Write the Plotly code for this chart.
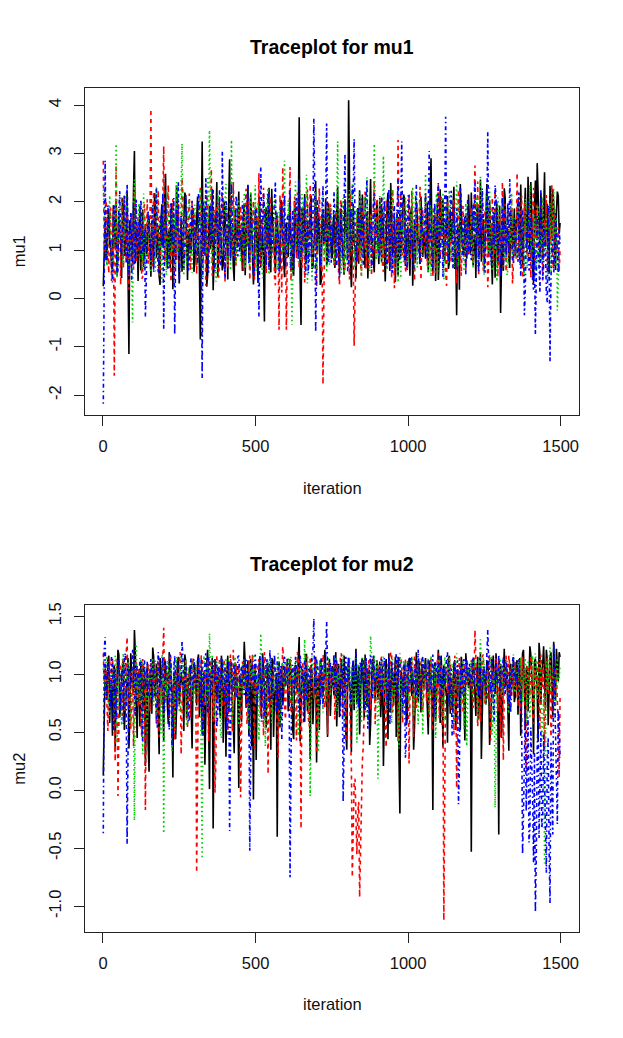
import plotly.graph_objects as go

# MCMC trace, 4 chains. Values read every 3rd iteration:
# *_chainN holds iterations 1, 7, 13, ... and *_chainN_mid holds 4, 10, 16, ...
iteration = list(range(1, 1501, 3))

mu1_chain1 = [
    0.25, 1.62, 0.94, 1.85, 1.12, 0.58, 1.41, 2.05, 0.87, 1.33, 0.42, 1.76, 1.05, 2.22, -1.15, 1.48, 0.71, 3.05, 1.18, 0.36, 1.92, 1.27, 0.65, 1.54, 0.98,
    1.68, 0.45, 1.21, 2.18, 0.83, 1.47, 0.28, 1.95, 1.09, 2.58, 0.62, 1.36, 1.81, 0.19, 1.52, 2.34, 0.91, 1.24, 0.55, 1.73, 2.12, 0.38, 1.44, 1.01, 1.87,
    0.74, 1.58, 1.16, -0.85, 3.25, 0.95, 1.62, 0.48, 1.91, 1.23, 0.17, 1.69, 2.41, 0.86, 1.35, 0.58, 2.02, 1.14, 0.39, 2.88, 1.27, 0.66, 1.83, 1.05, 2.21,
    1.41, 0.57, 1.96, 1.12, 2.35, 0.81, 1.54, 0.29, 1.78, 1.07, 2.13, 0.64, 1.46, -0.48, 1.89, 1.21, 0.73, 2.27, 1.35, 0.52, 1.68, 0.96, 2.04, 1.18, 0.44,
    1.57, 0.88, 2.09, 1.26, 0.47, 1.72, 1.03, 3.75, -0.55, 1.49, 2.16, 0.79, 1.38, 1.92, 0.61, 1.15, 2.43, 0.92, 1.61, 0.34, 1.84, 1.22, 0.69, 1.97, 1.31,
    0.83, 1.74, 1.19, 2.31, 0.58, 1.46, 0.97, 2.05, 1.33, 4.10, 0.72, 1.58, 1.11, 0.41, 1.87, 2.24, 0.86, 1.39, 0.63, 1.76, 1.02, 2.47, 1.25, 0.54, 1.69,
    1.13, 2.08, 0.76, 1.52, 0.35, 1.94, 1.27, 2.39, 0.89, 1.61, 1.05, 0.48, 1.82, 1.21, 2.15, 0.67, 1.43, 0.92, 1.78, 0.26, 1.56, 2.01, 1.09, 0.71, 1.65,
    1.36, 0.82, 1.98, 1.17, 2.90, 0.53, 1.71, 1.24, 0.38, 2.26, 1.48, 0.95, 1.63, 2.12, 0.74, 1.29, 1.88, 0.61, -0.35, 1.52, 2.37, 1.06, 0.87, 1.74, 1.19,
    1.45, 2.19, 0.68, 1.33, 1.84, 0.92, 2.46, 1.14, 0.57, 1.76, 1.28, 2.03, 0.81, 1.59, 0.43, 1.97, 1.21, -0.30, 1.66, 2.28, 0.99, 1.41, 0.63, 1.87, 1.16,
    0.88, 1.72, 1.25, 2.36, 0.66, 1.94, 1.37, 2.52, 0.95, 1.81, 0.31, 2.44, 2.80, 1.15, 2.18, 0.84, 2.61, 1.47, 0.72, 2.33, 1.26, 1.98, 0.59, 2.21, 1.34,
]
mu1_chain1_mid = [
    1.38, 0.79, 1.56, 1.12, 0.66, 1.93, 1.04, 0.51, 1.71, 1.27, 2.08, 0.88, 1.45, 0.37, 1.62, 1.15, 2.24, 0.73, 1.49, 1.01, 0.58, 1.84, 1.19, 0.92, 1.67,
    0.96, 1.53, 0.71, 1.88, 1.25, 0.46, 1.64, 1.09, 2.03, 0.82, 1.41, 0.63, 1.97, 1.18, 0.87, 1.74, 0.31, 1.58, 1.06, 2.19, 0.76, 1.33, 0.94, 1.81, 0.55,
    1.23, 2.11, 0.62, 1.46, 0.93, 1.79, 0.24, 1.35, 1.02, 2.26, 0.78, 1.57, 0.45, 1.91, 1.14, 0.69, 1.68, 1.29, 2.04, 0.84, 1.52, 0.36, 1.17, 1.86, 0.97,
    1.09, 1.72, 0.48, 1.37, 0.86, 2.17, 1.24, 0.67, 1.59, 0.32, 1.83, 1.13, 0.75, 1.66, 1.01, 2.29, 0.54, 1.42, 0.91, 1.77, 1.26, 0.61, 1.95, 0.83, 1.51,
    0.89, 1.48, 1.16, 0.57, 2.02, 0.95, 1.63, 0.42, 1.87, 1.07, 0.71, 1.55, 1.22, 2.13, 0.64, 1.39, 0.98, 1.76, 0.28, 1.61, 1.11, 2.06, 0.81, 1.43, 0.99,
    1.56, 0.63, 1.32, 0.94, 1.85, 1.18, 0.49, 1.71, 0.85, 1.47, 0.23, 1.96, 1.08, 1.63, 0.72, 1.37, 2.15, 0.95, 1.54, 0.41, 1.89, 1.12, 0.78, 1.45, 2.02,
    0.71, 1.44, 1.87, 0.96, 1.25, 2.19, 0.58, 1.62, 1.05, 0.34, 1.79, 1.31, 0.87, 1.58, 2.08, 0.92, 1.36, 0.47, 1.91, 1.16, 0.74, 1.68, 1.24, 2.11, 0.86,
    1.19, 1.63, 0.54, 1.81, 1.07, 1.52, 0.36, 1.95, 0.89, 1.43, 2.06, 0.77, 1.28, 0.61, 1.84, 1.13, 2.31, 0.94, 1.47, 0.18, 1.72, 1.03, 1.58, 0.82, 2.15,
    0.93, 1.57, 1.21, 0.42, 1.95, 1.32, 0.76, 1.64, 1.09, 2.37, 0.85, 1.48, 0.29, 1.73, 1.15, 0.68, 1.92, 1.26, 0.57, 2.08, 1.34, 0.81, 1.69, 1.02, 1.86,
    1.41, 2.07, 0.74, 1.63, 1.18, 2.29, 0.93, 1.52, 2.41, 0.62, 1.87, 1.25, 2.18, 0.84, 1.73, 2.34, 1.07, 1.96, 0.53, 1.68, 2.26, 0.97, 1.81, 2.12, 1.56,
]
mu1_chain2 = [
    2.85, 0.97, 1.64, 0.52, 1.88, 1.21, -1.60, 2.76, 0.84, 1.45, 2.11, 0.63, 1.37, 1.92, 0.18, 1.56, 1.03, 2.31, 0.75, 1.68, 1.14, 0.41, 1.82, 1.26, 2.05,
    1.18, 3.92, 0.66, 1.73, 1.09, 2.24, 0.47, 1.55, 3.15, 0.92, 1.81, 1.27, 0.34, 2.06, 1.43, 0.78, 1.96, 1.12, 2.49, 0.59, 1.64, 1.01, 2.17, 0.86, 1.38,
    1.74, 0.51, 1.29, 2.33, 0.89, 1.62, 0.26, 1.95, 1.17, 2.68, 0.72, 1.48, 1.86, 0.43, 1.35, 2.14, 0.97, 1.59, 0.64, 1.91, 1.23, 2.41, 0.81, 1.52, 1.06,
    1.92, 0.75, 1.44, 2.27, 1.08, 0.38, 1.67, 2.02, 0.93, 1.54, 2.59, 0.69, 1.31, 1.85, 0.52, 1.22, 2.11, 0.84, 1.63, 0.27, 1.78, -0.65, 1.39, 2.72, 0.96,
    -0.65, 1.46, 2.72, 0.81, 1.57, 1.13, 2.19, 0.62, 1.74, 1.02, 0.33, 1.89, 1.27, 2.36, 0.71, 1.49, 0.95, 1.83, 2.28, 0.56, -1.78, 1.61, 1.18, 0.87, 1.96,
    1.24, 0.68, 1.81, 1.37, 0.29, 2.05, 1.12, 0.58, 1.69, 0.91, 2.18, 1.46, -0.98, 1.33, 0.76, 1.92, 0.47, 1.58, 2.21, 1.05, 0.63, 1.74, 1.29, 2.43, 0.82,
    1.57, 0.94, 2.12, 0.55, 1.38, 1.86, 0.73, 1.49, 2.27, 0.21, 1.66, 3.28, 0.88, 1.43, 1.97, 0.61, 1.25, 2.09, 0.79, 1.54, 0.36, 1.82, 1.14, 2.31, 0.97,
    1.41, 2.16, 0.67, 1.79, 1.08, 0.44, 1.93, 1.32, 2.38, 0.85, 1.57, 1.16, 0.52, 2.02, 1.28, 0.74, 1.86, 1.45, 0.31, 2.25, 0.96, 1.63, 1.19, 0.58, 1.77,
    1.06, 1.89, 0.72, 2.75, 1.34, 0.48, 1.71, 2.13, 0.87, 1.52, 0.23, 1.95, 1.26, 0.66, 2.22, 1.11, 1.68, 0.82, 2.41, 1.37, 0.55, 1.84, 1.02, 2.08, 0.69,
    1.31, 2.60, 0.91, 1.58, 0.42, 1.97, 1.23, 0.76, 1.84, 1.15, 2.29, 0.63, 1.46, 1.02, 1.88, 0.37, 1.62, 2.14, 0.94, 1.39, 2.35, 0.71, 1.52, 1.08, 0.55,
]
mu1_chain2_mid = [
    1.12, 2.03, 0.74, 1.49, 0.36, 1.87, 1.21, 0.95, 1.66, 0.28, 1.43, 2.16, 0.81, 1.34, 1.07, 1.78, 0.59, 2.09, 1.26, 0.87, 1.53, 0.44, 1.95, 1.18, 0.72,
    1.56, 0.83, 2.21, 1.09, 1.67, 0.52, 1.38, 1.94, 0.76, 1.29, 2.35, 0.97, 1.61, 0.41, 1.82, 1.14, 0.68, 1.47, 2.12, 0.89, 1.33, 1.76, 0.58, 1.99, 1.23,
    0.86, 1.47, 1.12, 1.96, 0.63, 1.55, 2.23, 0.91, 1.36, 0.47, 1.83, 1.19, 2.05, 0.77, 1.62, 1.04, 0.35, 1.74, 1.27, 2.17, 0.94, 1.41, 0.68, 1.88, 1.15,
    1.33, 0.57, 1.78, 1.16, 2.08, 0.84, 1.51, 0.39, 1.92, 1.24, 0.73, 1.65, 2.29, 1.02, 1.44, 0.61, 1.86, 1.11, 0.46, 1.69, 0.95, 2.14, 0.12, 1.57, 1.28,
    0.94, 1.73, 0.37, 1.42, 2.11, 0.82, 1.58, 1.26, 0.63, 1.91, 1.17, 2.26, 0.76, 1.49, 0.98, 1.82, 0.25, 1.64, 1.08, 0.69, 0.12, 1.37, 2.03, 0.91, 1.54,
    1.47, 0.92, 1.63, 0.55, 1.98, 1.27, 0.81, 1.56, 1.13, 0.39, 1.71, 0.86, 0.05, 1.68, 1.21, 0.74, 1.93, 1.06, 0.62, 1.81, 1.34, 0.47, 1.59, 1.02, 2.07,
    1.23, 1.78, 0.66, 1.35, 2.02, 0.97, 1.62, 0.43, 1.87, 1.14, 0.78, 1.52, 2.18, 0.89, 1.31, 0.54, 1.76, 1.08, 2.23, 0.71, 1.46, 0.95, 1.69, 0.38, 1.83,
    0.96, 1.54, 1.18, 0.71, 1.86, 1.33, 0.52, 1.67, 1.04, 2.11, 0.84, 1.39, 0.26, 1.79, 1.15, 0.93, 2.04, 0.68, 1.58, 1.22, 0.47, 1.91, 1.07, 1.45, 0.88,
    1.52, 0.81, 1.94, 1.18, 2.42, 0.93, 1.47, 0.58, 1.82, 1.26, 0.74, 1.63, 2.09, 0.97, 1.38, 0.45, 1.75, 1.13, 0.64, 1.96, 1.22, 0.87, 1.59, 0.31, 1.44,
    0.82, 1.67, 1.24, 2.13, 0.69, 1.51, 0.97, 1.88, 0.43, 1.62, 1.05, 1.94, 0.76, 1.39, 2.07, 0.88, 1.21, 0.54, 1.76, 1.11, 0.63, 1.85, 0.92, 1.48, 1.03,
]
mu1_chain3 = [
    2.35, 1.12, 0.68, 1.86, 1.34, 0.45, 1.77, 3.20, 0.92, 1.51, 2.08, 0.73, 1.29, 1.94, 0.58, 1.43, -0.50, 2.46, 1.06, 1.65, 0.82, 1.38, 2.17, 0.61, 1.49,
    1.21, 0.54, 1.92, 1.07, 2.31, 0.79, 1.58, 0.33, 1.84, 1.16, 2.22, 0.69, 1.47, 0.96, 1.73, 2.41, 0.88, 1.35, 3.20, 0.47, 1.61, 1.09, 2.04, 0.74, 1.53,
    1.94, 0.83, 1.42, 2.26, 0.57, 1.67, 1.13, 2.49, 3.48, 0.71, 1.86, 1.24, 0.39, 2.13, 1.52, 0.92, 1.78, 2.37, 0.64, 1.31, 3.28, 0.85, 1.69, 1.18, 2.05,
    0.76, 1.58, 2.19, 0.98, 1.43, 0.51, 1.87, 1.26, 2.34, 0.67, 1.72, 1.11, 0.42, 1.96, 1.35, 2.28, 0.81, 1.54, 1.02, 2.11, 0.59, 1.79, 1.23, 0.93, 2.85,
    1.18, 2.03, 0.63, -0.55, 1.74, 2.42, 1.09, 1.56, 0.78, 1.91, 1.27, 2.56, 0.86, 1.44, 0.37, 1.82, 2.21, 1.05, 1.63, 0.71, 2.14, 1.36, 0.54, 1.88, 1.22,
    1.47, 0.89, 1.73, 3.25, 1.16, 0.52, 2.08, 1.34, 0.77, 1.95, 1.21, 2.37, 0.68, 1.58, 1.03, 2.19, 0.46, 1.82, 1.28, 2.51, 0.93, 1.64, 1.12, 3.20, 0.81,
    1.56, 2.12, 0.74, 2.95, 1.38, 0.61, 1.83, 1.19, 2.26, 0.85, 1.49, 0.33, 1.96, 1.27, 0.72, 2.08, 1.41, 0.94, 1.75, 2.31, 0.58, 1.62, 1.15, 2.02, 0.88,
    1.33, 2.58, 0.97, 1.69, 0.45, 1.84, 1.22, 2.17, 0.76, 1.51, 1.08, 0.39, 1.93, 1.36, 2.24, 0.83, 1.61, 1.14, 2.42, 0.67, 1.79, 1.25, 0.56, 1.97, 1.43,
    1.07, 1.76, 0.62, 1.48, 2.11, 0.91, 2.55, 1.29, 0.48, 1.85, 1.17, 2.29, 0.73, 1.54, 1.01, 0.35, 1.92, 1.39, 2.06, 0.81, 1.66, 0.58, 1.24, 2.18, 0.96,
    1.52, 0.84, 2.21, 1.13, 1.69, 0.47, 1.88, 1.26, 2.34, 0.72, 1.57, 1.04, 1.93, 0.61, 1.42, 2.09, 0.89, 1.73, 0.38, 1.98, 1.21, 2.27, 0.66, -0.25, 1.17,
]
mu1_chain3_mid = [
    1.64, 0.91, 1.27, 2.13, 0.72, 1.58, 1.09, 0.43, 1.86, 1.21, 0.67, 1.73, 2.19, 0.95, 1.36, 0.52, 1.81, 1.14, 0.83, 1.97, 1.28, 0.61, 1.49, 1.02, 1.77,
    0.84, 1.69, 1.13, 0.56, 1.91, 1.34, 0.73, 2.07, 1.22, 0.48, 1.65, 0.97, 1.83, 1.26, 0.62, 1.54, 1.08, 2.26, 0.89, 1.37, 0.71, 1.94, 1.17, 0.53, 1.72,
    1.31, 0.68, 1.87, 1.12, 0.44, 2.04, 0.93, 1.56, 1.19, 0.76, 1.68, 0.35, 1.92, 1.25, 0.81, 1.49, 2.13, 0.97, 1.63, 0.58, 1.36, 1.84, 0.72, 1.41, 1.09,
    1.47, 1.03, 0.62, 1.76, 1.19, 2.22, 0.85, 1.43, 0.57, 1.98, 1.28, 0.74, 1.61, 1.06, 2.09, 0.49, 1.37, 0.94, 1.85, 1.23, 0.66, 1.71, 1.14, 2.31, 0.82,
    0.93, 1.57, 1.24, 0.47, 1.82, 1.09, 0.75, 1.66, 2.16, 0.88, 1.45, 0.31, 1.73, 1.18, 0.96, 1.87, 0.58, 1.39, 1.04, 2.08, 0.83, 1.51, 1.27, 0.69, 1.93,
    1.26, 0.74, 1.98, 1.41, 0.86, 1.63, 0.52, 1.79, 1.15, 2.24, 0.97, 1.48, 0.63, 1.86, 1.32, 0.78, 1.55, 2.11, 0.89, 1.38, 0.56, 1.74, 1.07, 1.92, 1.19,
    0.87, 1.64, 1.13, 1.89, 0.68, 1.43, 0.99, 2.05, 1.31, 0.59, 1.76, 1.18, 0.42, 1.69, 1.04, 1.87, 0.77, 1.56, 1.21, 0.93, 2.14, 0.64, 1.47, 1.11, 1.72,
    1.58, 1.06, 0.53, 1.94, 1.22, 0.84, 1.61, 0.47, 1.78, 1.27, 2.19, 0.91, 1.43, 0.72, 1.85, 1.12, 0.63, 1.67, 1.01, 2.03, 0.86, 1.39, 1.74, 0.98, 1.51,
    1.21, 0.85, 1.73, 1.16, 0.66, 1.92, 1.38, 0.79, 1.63, 2.14, 0.94, 1.46, 0.57, 1.81, 1.24, 2.09, 0.73, 1.52, 0.98, 1.36, 0.48, 1.87, 1.13, 0.82, 1.66,
    1.12, 1.84, 0.69, 1.47, 0.98, 2.06, 0.62, 1.53, 1.16, 0.83, 1.72, 0.45, 1.88, 1.27, 0.74, 1.61, 1.19, 0.92, 1.76, 0.57, 1.43, 0.81, 1.68, 0.33, 1.26,
]
mu1_chain4 = [
    -2.18, 2.85, 0.72, 1.64, 1.18, 0.33, 1.95, 1.27, 0.58, 2.22, 0.86, 1.51, 1.04, 2.38, 0.47, 1.79, 1.12, 0.69, 2.04, 1.36, 0.91, 1.67, 1.22, -0.38, 1.23,
    1.45, 0.78, 1.93, 1.16, 2.29, 0.54, 1.71, 1.08, -0.65, 2.09, 1.32, 0.86, 1.99, 1.41, -0.75, 1.85, 2.43, 0.97, 1.57, 0.63, 2.15, 1.28, 0.82, 1.76, 1.19,
    1.62, 0.91, 2.16, 1.34, -1.65, 1.87, 2.51, 0.73, 1.48, 1.09, 2.27, 0.56, 1.81, 1.22, 0.67, 3.05, 1.39, 2.04, 0.88, 1.66, 2.38, 1.13, 0.79, 1.95, 1.31,
    1.27, 2.01, 0.82, 1.59, 2.33, 0.97, 1.74, 0.49, 1.92, 1.36, -0.38, 2.72, 1.15, 1.83, 0.68, 2.19, 1.41, 0.93, 1.68, 2.42, 1.06, 0.57, 1.89, 1.24, 2.14,
    0.95, 1.71, 2.26, 1.12, 0.61, 1.87, 1.39, 2.48, 0.84, 1.63, 2.11, 1.05, 0.52, 1.96, 1.28, 3.72, -0.70, 2.03, 1.47, 0.89, 2.35, 1.19, 3.62, 0.76, 1.82,
    1.53, 2.21, 0.96, 1.68, 0.43, 1.94, 1.22, 3.00, 1.37, 0.78, 1.85, 2.32, 3.30, 0.87, 1.61, 1.14, 2.07, 0.69, 1.79, 2.44, 1.03, 1.56, 0.81, 2.18, 1.31,
    1.42, 0.88, 2.09, 1.26, 1.73, 0.64, 2.27, 1.15, 0.53, 1.91, 1.33, 2.46, 0.79, 3.25, 1.07, 1.82, 0.58, 2.13, 1.45, 0.92, 1.67, 2.36, 1.18, 0.71, 1.88,
    1.24, 2.17, 0.83, 3.05, 1.51, 0.66, 1.97, 1.29, 2.39, 0.74, 1.62, 1.08, 3.76, 0.95, 1.78, 2.23, 0.61, 1.44, 1.86, 0.87, 2.31, 1.17, 1.59, 0.49, 2.05,
    1.38, 0.79, 1.94, 2.42, 1.13, 0.56, 1.75, 2.28, 0.91, 1.67, 3.45, 1.21, 0.68, 1.89, 2.34, 1.02, 1.56, 0.44, 2.11, 1.33, 0.85, 1.98, 2.47, 1.16, 0.73,
    1.64, 1.05, 2.19, 0.47, 1.82, -0.35, 1.36, 2.02, 0.63, 1.58, 0.18, -0.75, 1.71, 0.86, 2.24, 0.39, 1.49, 0.08, 1.93, -1.32, 1.18, 0.54, 1.77, 0.96, 1.45,
]
mu1_chain4_mid = [
    1.52, 0.86, 1.93, 1.17, 0.61, 1.74, 1.28, 0.47, 1.86, 0.99, 1.45, 2.12, 0.73, 1.62, 1.06, 0.38, 1.97, 1.31, 0.84, 1.58, 2.05, 0.92, 1.43, 0.66, 1.81,
    1.07, 1.69, 0.54, 1.88, 1.23, 0.79, 1.56, 2.19, 0.91, 1.34, 0.62, 1.77, 1.12, 2.08, 0.86, 1.49, 0.33, 1.72, 1.18, 0.95, 1.83, 0.58, 1.46, 2.02, 0.97,
    1.36, 0.74, 1.62, 1.05, 2.01, 0.89, 1.44, 0.53, 1.91, 1.27, 0.68, 1.73, 1.14, 2.24, 0.96, 1.52, 0.41, 1.85, 1.21, 0.77, 1.64, 1.02, 2.13, 0.87, 1.48,
    0.92, 1.54, 1.19, 2.06, 0.71, 1.63, 1.08, 0.46, 1.82, 1.25, 0.83, 1.69, 2.17, 0.98, 1.41, 0.59, 1.78, 1.16, 2.03, 0.88, 1.36, 0.72, 1.92, 1.13, 0.64,
    1.68, 1.13, 0.58, 1.84, 1.29, 2.08, 0.81, 1.47, 0.96, 1.75, 0.49, 1.93, 1.24, 0.86, 1.59, 2.21, 1.05, 1.38, 0.67, 1.81, 1.16, 2.04, 0.92, 1.53, 0.74,
    1.11, 1.76, 0.69, 1.52, 1.24, 0.83, 1.91, 1.35, 0.56, 1.67, 1.02, 2.09, 1.47, 0.74, 1.86, 1.19, 0.92, 1.63, 2.14, 0.87, 1.41, 0.63, 1.95, 1.08, 1.54,
    0.84, 1.59, 1.27, 2.03, 0.96, 1.42, 0.57, 1.81, 1.18, 0.72, 1.66, 1.09, 1.94, 1.33, 0.79, 1.57, 2.12, 0.93, 1.46, 0.61, 1.87, 1.22, 0.85, 1.72, 1.14,
    1.47, 0.93, 1.86, 1.21, 0.67, 1.74, 1.12, 2.01, 0.88, 1.53, 0.45, 1.92, 1.28, 0.76, 1.64, 1.07, 1.89, 0.58, 1.43, 1.17, 2.06, 0.82, 1.69, 1.25, 0.91,
    1.02, 1.63, 1.36, 0.71, 1.88, 1.14, 0.92, 1.71, 0.53, 1.96, 1.24, 0.81, 1.57, 1.09, 2.11, 0.76, 1.48, 1.18, 0.64, 1.83, 1.31, 0.95, 1.67, 0.87, 1.42,
    1.18, 0.76, 1.54, 0.93, 1.37, 0.21, 1.12, 0.58, 1.69, 0.32, 1.05, 0.44, 1.27, 0.12, 1.48, 0.66, 1.14, -0.08, 0.89, 0.37, 1.23, 0.71, 1.42, 0.52, 1.09,
]

mu2_chain1 = [
    0.13, 1.05, 0.78, 1.16, 0.92, 0.47, 1.08, 0.86, 1.21, 0.63, 0.99, 1.13, 0.71, 0.95, 0.36, 1.18, 0.88, 1.38, 0.74, 1.02, 0.55, 1.11, 0.84, 0.21, 1.07,
    0.16, 0.97, 1.23, 0.81, 1.09, 0.58, 1.14, 0.89, 0.42, 1.06, 0.77, 1.19, 0.93, 0.11, 1.01, 0.69, 1.15, 0.85, 0.97, 0.51, 1.12, 0.79, 1.04, 0.64, 0.94,
    1.08, 0.73, 1.17, 0.91, 0.48, 1.03, 0.82, 1.21, 0.01, 0.96, -0.33, 1.13, 0.75, 0.99, 0.62, 1.07, 0.87, 0.29, 1.16, 0.83, 1.02, 0.57, 1.10, 0.92, 0.02,
    0.94, 1.06, 1.28, 0.71, 1.12, 0.85, 0.38, -0.08, 1.09, 0.79, 1.01, 0.66, 1.18, 0.92, 0.54, 1.07, 0.83, 1.14, 0.46, 0.97, -0.40, 1.11, 0.88, 0.73, 1.05,
    0.99, 0.68, 1.13, 0.87, 0.44, 1.08, 0.93, 1.32, 0.76, 1.04, 0.59, 1.17, 0.89, 0.27, 1.02, 0.81, 1.15, 0.95, 0.52, 1.09, 0.84, 1.21, 0.73, 0.98, 0.64,
    1.07, 0.82, 1.19, 0.91, 0.63, 1.12, 0.78, 1.01, 0.35, 1.14, 0.86, 1.05, 0.69, 1.22, 0.94, 0.48, 1.09, 0.83, 1.17, 0.72, 1.03, 0.57, 1.13, 0.89, 0.96,
    0.78, 1.11, 0.93, 0.21, 1.06, 0.84, 1.18, 0.67, 1.02, 0.91, 0.46, 1.15, -0.20, 0.99, 0.81, 1.08, 0.62, 1.13, 0.87, 1.04, 0.55, 1.19, 0.76, 0.97, 1.09,
    0.86, 1.14, 0.71, 1.03, 0.92, -0.17, 1.10, 0.79, 1.21, 0.58, 0.98, 1.07, 0.84, 0.41, 1.16, 0.93, 0.67, 1.12, 0.88, 1.01, 0.52, 1.09, 0.77, 1.18, 0.95,
    1.04, -0.53, 1.13, 0.82, 0.97, 0.61, 1.19, 0.88, 1.06, 0.74, 1.11, 0.39, 0.95, 1.16, 0.83, 1.02, -0.38, 1.09, 0.72, 1.22, 0.91, 0.58, 1.07, 0.86, 1.14,
    0.81, 1.12, 0.93, 0.47, 1.18, 0.87, 1.05, 0.68, 1.24, 0.96, 0.31, 1.13, 0.85, 1.27, 0.74, 1.08, 0.92, 1.21, 0.56, 1.15, 0.89, 1.28, 0.77, 1.06, 1.19,
]
mu2_chain1_mid = [
    0.71, 0.96, 1.12, 0.58, 0.89, 1.03, 0.34, 0.94, 1.17, 0.76, 1.08, 0.52, 0.91, 1.14, 0.63, 1.01, 0.82, 1.19, 0.45, 0.97, 1.09, 0.68, 1.04, 0.87, 0.39,
    1.02, 0.66, 1.15, 0.87, 0.99, 0.31, 1.06, 0.79, 1.13, 0.92, 0.57, 1.08, 0.83, 0.97, 0.44, 1.11, 0.74, 1.01, 0.88, 1.17, 0.62, 0.95, 1.07, 0.36, 0.91,
    0.85, 1.12, 0.63, 1.04, 0.93, 0.22, 1.09, 0.76, 0.98, 1.14, 0.54, 0.89, 1.06, 0.71, 1.16, 0.41, 0.95, 1.03, 0.67, 1.11, 0.86, 0.32, 1.05, 0.79, 0.99,
    0.59, 0.97, 1.08, 0.82, 0.47, 1.13, 0.91, 1.02, 0.26, 0.94, 1.15, 0.73, 1.04, 0.61, 1.09, 0.88, 0.35, 1.12, 0.79, 1.01, 0.92, 0.54, 1.07, 0.84, 0.98,
    1.11, 0.78, 0.95, 0.51, 1.06, 0.87, 1.14, 0.42, 1.01, 0.93, 1.17, 0.68, 0.96, 1.08, 0.57, 1.03, 0.24, 0.99, 1.12, 0.81, 0.94, 1.05, 0.46, 1.13, 0.86,
    0.92, 1.04, 0.55, 1.09, 0.83, 0.97, 1.16, 0.48, 1.02, 0.89, 0.33, 1.11, 0.95, 0.74, 1.07, 0.86, 1.14, 0.62, 0.99, 1.05, 0.39, 0.91, 1.08, 0.77, 1.12,
    0.96, 0.63, 1.07, 0.85, 1.13, 0.44, 0.98, 1.06, 0.73, 1.15, 0.88, 0.29, 1.03, 0.91, 1.09, 0.56, 0.97, 1.14, 0.81, 0.35, 1.04, 0.93, 1.11, 0.67, 1.01,
    1.05, 0.91, 0.48, 1.12, 0.84, 0.99, 0.59, 1.08, 0.94, 1.16, 0.37, 1.02, 0.87, 1.13, 0.66, 0.97, 1.09, 0.52, 1.04, 0.79, 1.15, 0.92, 0.43, 1.06, 0.88,
    0.89, 0.97, 1.08, 0.64, 1.15, 0.93, 0.27, 1.04, 0.82, 1.11, 0.96, 0.53, 1.07, 0.87, 1.18, 0.71, 0.99, 0.45, 1.13, 0.91, 1.05, 0.34, 1.09, 0.98, 0.76,
    1.09, 0.65, 1.14, 0.99, 1.21, 0.52, 1.07, 0.93, 1.17, 0.81, 1.11, 0.96, 0.42, 1.16, 1.03, 1.24, 0.71, 1.12, 0.98, 1.19, 0.63, 1.08, 1.22, 0.94, 1.15,
]
mu2_chain2 = [
    1.18, 0.92, 0.74, 1.06, 0.85, 1.13, 0.61, 0.97, -0.05, 1.09, 0.81, 1.15, 0.68, 1.32, 0.93, 0.53, 1.04, 0.87, 1.12, 0.71, 0.99, 0.46, 1.08, -0.17, 0.94,
    0.79, 1.11, 0.88, 1.02, 0.57, 1.16, 0.95, 0.73, 1.40, 0.84, 1.07, 0.62, 1.13, 0.91, 0.43, 1.05, 0.82, 1.19, 0.69, 0.98, 1.11, 0.54, 1.03, 0.87, 1.14,
    0.96, -0.71, 1.09, 0.83, 1.15, 0.67, 0.99, 1.12, 0.78, 1.04, 0.59, -0.02, 1.17, 0.88, 1.01, 0.72, 1.13, 0.94, 0.48, 1.07, 0.85, 1.21, 0.76, 0.97, 1.06,
    -0.06, 1.11, 0.87, 1.03, 0.69, 1.16, 0.92, 0.55, 1.08, 0.81, 1.13, 0.64, 0.98, 1.19, 0.86, 0.14, 1.05, 0.77, 1.12, 0.93, 0.58, 1.07, 0.89, 1.24, 0.73,
    1.02, 0.84, 1.14, 0.68, 1.07, 0.91, 1.19, 0.76, -0.33, 1.11, 0.87, 1.03, 0.62, 1.15, 0.93, 0.79, 1.09, 0.51, 1.01, 0.88, 1.17, 0.71, 0.97, 1.12, 0.83,
    0.93, 1.13, 0.78, 1.05, 0.86, 1.18, 0.64, 1.01, 0.89, 1.14, 0.52, -0.75, 0.05, -0.35, -0.20, -0.92, -0.05, 0.38, 1.06, 0.82, 1.12, 0.69, 0.98, 1.16, 0.87,
    1.08, 0.74, 1.15, 0.91, 0.58, 1.03, 0.85, 1.19, 0.67, 0.99, 1.11, 0.42, 0.96, 1.07, 0.79, 1.13, 0.88, 0.23, 1.05, 0.92, 1.17, 0.71, 1.01, 0.84, 1.12,
    0.82, 1.09, 0.95, 0.63, 1.14, 0.87, 1.02, 0.76, 1.18, 0.91, 0.55, -1.12, 1.06, 0.83, 1.13, 0.69, 0.99, 1.16, 0.02, 1.04, 0.88, 1.11, 0.74, 0.97, 1.07,
    0.94, 1.12, 0.71, 1.38, 0.86, 1.05, 0.59, 1.15, 0.92, 1.01, 0.78, 1.17, 0.67, 0.98, 1.09, 0.84, 1.13, 0.45, 1.03, 0.89, 1.16, 0.73, 1.07, 0.95, 0.81,
    1.11, 0.87, 1.04, 0.66, 1.15, 0.93, 0.18, 1.08, 0.81, 1.13, 0.57, 0.99, 1.06, 0.74, 1.17, 0.89, 0.35, 1.02, 0.83, 1.12, 0.62, 0.96, 1.09, 0.76, 0.11,
]
mu2_chain2_mid = [
    0.93, 1.08, 0.51, 1.14, 0.87, 0.99, 0.25, 1.12, 0.82, 1.05, 0.64, 0.96, 1.17, 0.73, 1.03, 0.88, 0.38, 1.11, 0.94, 1.06, 0.59, 1.13, 0.85, 0.98, 1.09,
    0.68, 0.97, 1.12, 0.81, 1.04, 0.46, 0.92, 1.15, 0.76, 1.01, 0.89, 1.18, 0.53, 0.95, 1.07, 0.72, 1.13, 0.31, 0.99, 0.86, 1.05, 0.94, 0.63, 1.11, 0.83,
    1.07, 0.79, 0.94, 1.16, 0.58, 1.03, 0.87, 0.42, 1.12, 0.95, 1.08, 0.24, 0.91, 1.14, 0.77, 0.99, 0.63, 1.05, 0.88, 1.17, 0.51, 0.96, 1.09, 0.82, 0.97,
    0.84, 0.98, 1.13, 0.57, 1.06, 0.91, 1.17, 0.36, 0.97, 1.09, 0.78, 1.02, 0.47, 1.12, 0.93, 1.05, 0.66, 0.99, 1.15, 0.83, 0.28, 1.04, 0.92, 1.11, 0.61,
    1.13, 0.92, 0.66, 1.05, 0.96, 0.43, 1.11, 0.85, 1.02, 0.74, 1.16, 0.94, 0.55, 1.07, 0.89, 1.13, 0.32, 0.98, 1.06, 0.79, 1.12, 0.91, 0.48, 1.04, 0.97,
    1.02, 0.61, 1.09, 0.94, 1.15, 0.79, 0.97, 0.42, 1.06, 0.88, 0.21, -0.30, 0.10, -0.55, -0.10, -0.40, 0.25, 0.95, 1.13, 0.72, 1.01, 0.86, 1.14, 0.57, 1.04,
    0.91, 1.12, 0.84, 1.01, 0.37, 1.09, 0.95, 1.16, 0.73, 1.04, 0.88, 0.96, 1.13, 0.58, 1.07, 0.92, 1.02, 0.81, 1.15, 0.46, 0.98, 1.09, 0.87, 1.14, 0.69,
    1.06, 0.77, 1.12, 0.89, 0.51, 1.03, 0.94, 1.15, 0.62, 1.08, 0.96, 0.33, 1.01, 0.87, 1.11, 0.93, 0.48, 1.05, 0.82, 1.14, 0.97, 0.67, 1.09, 0.91, 1.02,
    0.87, 1.09, 0.96, 1.14, 0.55, 1.03, 0.91, 1.17, 0.74, 0.99, 1.12, 0.43, 1.06, 0.89, 1.15, 0.68, 0.97, 1.08, 0.26, 1.02, 0.93, 1.16, 0.81, 1.05, 0.94,
    0.98, 0.72, 1.13, 0.88, 1.02, 0.39, 1.07, 0.95, 1.16, 0.64, 1.04, 0.86, 1.11, 0.52, 0.97, 1.09, 0.73, 1.14, 0.91, 0.46, 1.06, 0.84, 0.99, 0.58, 0.83,
]
mu2_chain3 = [
    1.05, 0.84, 1.16, 0.72, 0.97, 1.09, 0.63, 1.13, 0.88, 1.02, 0.56, 1.18, 0.81, 0.94, 1.11, 0.67, 1.04, -0.26, 1.26, 0.91, 0.74, 1.12, 0.85, 0.99, 0.48,
    1.08, 0.79, 1.14, 0.93, 0.61, 1.03, 0.86, 1.17, -0.37, 0.98, 1.12, 0.75, 1.06, 0.89, 0.52, 1.15, 0.94, 0.68, 1.09, 0.83, 1.13, 0.57, 1.01, 0.92, 0.77,
    0.97, 1.11, 0.82, 1.04, -0.59, 1.16, 0.73, 0.95, 1.35, 0.86, 1.07, 0.64, 1.12, 0.91, 0.49, 1.03, 0.84, 1.14, 0.69, 0.98, 1.09, 0.77, 1.15, 0.88, 0.56,
    1.06, 0.81, 1.13, 0.92, 0.66, 1.08, 0.87, 1.17, 0.74, 0.99, 0.43, 1.35, 0.89, 1.04, 0.71, 1.12, 0.94, 0.58, 1.07, 0.83, 1.15, 0.96, 0.68, 1.10, 0.85,
    0.91, 1.14, 0.77, 1.03, 0.88, 1.12, 0.62, 0.98, 1.07, 0.83, 1.30, 0.72, 1.05, -0.05, 1.16, 0.94, 0.79, 1.09, 0.86, 1.13, 0.67, 1.01, 0.92, 1.15, 0.81,
    1.04, 0.86, 1.13, 0.71, 1.08, 0.93, 1.17, 0.64, 0.99, 1.11, 0.82, 1.06, 0.75, 1.14, 0.89, 1.02, 0.58, 1.12, 0.94, 1.07, 0.79, 1.33, 0.87, 1.16, 0.97,
    0.10, 1.09, 0.84, 1.15, 0.92, 0.69, 1.05, 0.88, 1.13, 0.76, 1.01, 0.95, 1.18, 0.63, 1.07, 0.86, 1.12, 0.74, 0.99, 1.14, 0.82, 1.04, 0.57, 1.11, 0.93,
    1.13, 0.87, 1.02, 0.66, 1.16, 0.91, 1.07, 0.78, 1.12, 0.85, 1.04, 0.59, 1.09, 0.94, 1.15, 0.72, 1.01, 0.88, 1.18, 0.81, 1.06, 0.97, 0.53, 1.11, 0.89,
    0.96, 1.11, 0.79, 1.05, 0.87, 1.14, 1.30, 0.93, 1.08, 0.74, 1.02, 0.89, 1.16, 0.67, -0.15, 1.06, 0.92, 1.13, 0.81, 0.99, 1.12, 0.71, 1.04, 0.88, 1.17,
    0.84, 1.07, 0.93, 1.15, 0.76, 1.02, 0.88, 1.12, 0.62, 1.05, 0.91, 1.18, 0.79, 1.09, 0.97, 0.53, -0.63, 1.11, 0.86, 1.23, 0.92, 1.04, 0.71, 1.14, 0.96,
]
mu2_chain3_mid = [
    0.88, 1.11, 0.95, 0.64, 1.07, 0.83, 1.16, 0.41, 1.02, 0.91, 1.13, 0.69, 0.97, 1.09, 0.55, 1.04, 0.86, 1.15, 0.77, 0.99, 1.12, 0.31, 1.06, 0.93, 1.01,
    0.95, 1.06, 0.73, 1.12, 0.87, 1.01, 0.49, 1.14, 0.92, 0.79, 1.08, 0.96, 0.34, 1.11, 0.84, 1.03, 0.67, 1.16, 0.91, 0.98, 0.56, 1.07, 0.88, 1.13, 0.81,
    1.09, 0.83, 1.14, 0.29, 1.02, 0.94, 1.11, 0.76, 0.99, 1.17, 0.62, 1.04, 0.89, 1.12, 0.45, 0.97, 1.08, 0.82, 1.15, 0.93, 0.58, 1.06, 0.91, 1.01, 0.74,
    0.97, 1.12, 0.86, 1.04, 0.52, 1.09, 0.93, 1.16, 0.78, 1.01, 0.66, 1.13, 0.95, 0.38, 1.07, 0.89, 1.14, 0.71, 1.03, 0.96, 1.18, 0.57, 1.05, 0.92, 1.11,
    1.04, 0.89, 1.15, 0.72, 0.98, 1.08, 0.47, 1.13, 0.91, 1.02, 0.81, 1.16, 0.94, 0.63, 1.06, 0.87, 1.12, 0.33, 1.01, 0.95, 1.09, 0.76, 1.14, 0.85, 0.99,
    0.93, 1.13, 0.68, 1.05, 0.96, 1.11, 0.54, 1.07, 0.89, 1.15, 0.73, 1.02, 0.94, 0.41, 1.09, 0.86, 1.14, 0.97, 0.62, 1.06, 0.91, 1.18, 0.79, 1.03, 1.12,
    0.71, 0.98, 1.12, 0.86, 1.04, 0.93, 1.15, 0.58, 1.07, 0.89, 1.13, 0.36, 1.01, 0.95, 1.11, 0.79, 1.06, 0.91, 1.14, 0.64, 1.02, 0.87, 1.09, 0.97, 0.49,
    1.07, 0.94, 1.14, 0.77, 1.03, 0.88, 0.45, 1.11, 0.96, 1.05, 0.69, 1.15, 0.92, 1.01, 0.83, 1.09, 0.58, 1.13, 0.97, 1.04, 0.71, 1.12, 0.89, 0.38, 1.06,
    1.02, 0.86, 1.13, 0.94, 0.61, 1.08, 0.97, 1.15, 0.79, 1.04, 0.91, 1.12, 0.48, 1.03, 0.35, 0.96, 1.14, 0.84, 1.07, 0.92, 1.11, 0.66, 0.99, 1.05, 0.88,
    0.95, 1.11, 0.76, 1.06, 0.91, 1.14, 0.57, 1.02, 0.88, 1.16, 0.69, 1.09, 0.94, 1.13, 0.43, 0.81, 0.22, 0.97, 1.12, 0.85, 1.07, 0.62, 1.03, 0.93, 1.08,
]
mu2_chain4 = [
    -0.37, 1.32, 0.86, 1.08, 0.72, 1.15, 0.93, 0.61, 1.12, 0.84, 1.04, 0.57, 1.18, -0.46, 1.07, 0.89, 1.22, 0.76, 1.01, 0.94, 1.14, 0.68, 1.06, 0.87, 1.11,
    0.92, 1.13, 0.78, 1.05, 0.63, 1.19, 0.88, 1.02, 0.74, 1.11, 0.96, 0.52, 1.08, 0.85, 1.16, 0.69, 1.03, 0.91, 1.29, 0.81, 1.07, 0.97, 0.59, 1.14, 0.87,
    1.06, 0.89, 1.15, 0.72, 1.03, 0.94, 1.18, 0.66, 1.09, 0.83, 1.12, 0.97, 0.54, 1.07, 0.88, 1.14, 0.76, 1.02, 0.93, -0.35, 1.11, 0.85, 1.04, 0.79, 1.16,
    0.91, 1.08, 0.82, 1.13, 0.95, -0.52, 1.06, 0.87, 1.17, 0.73, 1.02, 0.92, 1.14, 0.64, 1.09, 0.86, 1.21, 0.78, 1.04, 0.97, 1.12, 0.69, 1.07, 0.89, 1.15,
    0.98, 1.12, -0.75, 1.06, 0.84, 1.15, 0.91, 0.67, 1.09, 0.95, 1.13, 0.78, 1.04, 0.88, 1.18, 1.48, 0.83, 1.07, 0.96, 1.14, 0.72, 1.02, 1.45, 0.89, 1.11,
    0.94, 1.17, 0.81, 1.06, 0.92, 1.13, -0.10, 1.08, 0.87, 1.15, 0.76, 1.03, 0.96, 1.19, 0.84, 1.07, 0.91, 1.12, 0.68, 1.05, 0.93, 1.16, 0.79, 1.09, 0.98,
    1.04, 0.86, 1.13, 0.95, 1.08, 0.71, 1.15, 0.89, 1.02, 0.93, 1.18, 0.77, 1.06, 0.91, 1.11, 0.28, 1.07, 0.85, 1.14, 0.96, 1.01, 0.82, 1.21, 0.88, 1.09,
    0.97, 1.12, 0.84, 1.06, 0.93, 1.17, 0.79, 1.03, 0.91, 1.14, 0.86, 1.08, 0.95, 1.19, 0.72, 1.05, 0.89, 1.11, 0.98, -0.12, 1.07, 0.83, 1.13, 0.92, 1.04,
    1.09, 0.88, 1.15, 0.96, 1.04, 0.81, 1.12, 0.93, 1.07, 0.85, 1.38, 0.91, 1.14, 0.77, 1.03, 0.95, 1.17, 0.86, 1.08, 0.99, 1.11, 0.74, 1.05, 0.92, 1.16,
    1.02, 0.91, 1.13, 0.86, -0.55, 0.42, -0.18, 0.63, -0.34, 0.28, -0.62, -1.05, 0.35, -0.41, 0.51, -0.22, 0.14, -0.71, 0.46, -0.97, 0.08, 1.27, 0.39, -0.29, 0.56,
]
mu2_chain4_mid = [
    1.21, 0.78, 1.09, 0.93, 1.15, 0.51, 1.04, 0.87, 1.13, 0.69, 0.98, 1.11, 0.84, 0.18, 1.02, 0.95, 1.16, 0.63, 1.07, 0.89, 1.01, 0.42, 1.12, 0.96, 0.81,
    1.04, 0.86, 1.12, 0.97, 0.54, 1.08, 0.92, 1.15, 0.68, 1.03, 0.88, 1.17, 0.39, 1.06, 0.94, 1.11, 0.77, 0.99, 1.14, 0.85, 1.02, 0.61, 1.09, 0.93, 1.13,
    0.89, 1.05, 0.96, 1.13, 0.47, 1.08, 0.92, 1.16, 0.81, 1.02, 0.94, 1.11, 0.65, 0.99, 1.14, 0.87, 1.06, 0.52, 1.12, 0.18, 0.97, 1.09, 0.83, 1.15, 0.95,
    1.07, 0.93, 1.14, 0.72, 1.02, 0.21, 1.11, 0.96, 1.04, 0.85, 1.16, 0.59, 1.08, 0.94, 1.13, 0.76, 1.01, 0.91, 1.17, 0.67, 1.05, 0.98, 0.44, 1.12, 0.89,
    1.13, 0.95, 0.32, 1.08, 0.92, 1.04, 0.83, 1.16, 0.97, 0.58, 1.11, 0.89, 1.06, 0.94, 1.21, 0.87, 1.13, 0.99, 0.74, 1.09, 0.96, 1.18, 1.02, 0.86, 0.97,
    1.03, 0.89, 1.12, 0.96, 0.64, 1.08, 0.37, 1.15, 0.91, 1.02, 0.85, 1.13, 0.94, 1.06, 0.71, 1.11, 0.98, 0.86, 1.14, 0.53, 1.07, 0.93, 1.16, 0.88, 1.04,
    0.92, 1.09, 0.81, 1.14, 0.97, 1.03, 0.56, 1.11, 0.94, 1.07, 0.86, 1.15, 0.99, 0.67, 1.05, 0.42, 1.12, 0.95, 1.02, 0.84, 1.13, 0.91, 1.06, 0.73, 1.15,
    1.08, 0.94, 1.13, 0.87, 1.02, 0.63, 1.11, 0.96, 1.16, 0.79, 1.05, 0.92, 1.14, 0.88, 0.99, 0.47, 1.07, 0.93, 1.12, 0.21, 0.98, 1.09, 0.85, 1.13, 0.95,
    0.97, 1.11, 0.89, 1.06, 0.93, 1.14, 0.78, 1.02, 0.95, 1.16, 1.09, 0.84, 1.07, 0.59, 1.12, 0.91, 1.04, 0.96, 1.15, 0.82, 1.08, 0.93, 0.67, 1.11, 0.98,
    0.94, 1.07, 0.82, 0.63, -0.21, 0.71, 0.18, -0.45, 0.54, -0.06, 0.33, -0.58, 0.62, 0.07, -0.33, 0.48, -0.14, 0.26, -0.52, 0.41, -0.38, 0.87, 0.15, 0.69, 0.28,
]

chain_colors = ["#000000", "#FF0000", "#00CD00", "#0000FF"]
chain_dash = ["solid", "4px,4px", "1.5px,3px", "1.5px,3px,4px,3px"]

# the page body has an 8px margin, so figure pixels = page pixels - 8
OFF = 8
W, H = 623 - OFF, 1038 - OFF
FONT = "Liberation Sans, Arial, sans-serif"


def px(x):
    return (x - OFF) / W


def py(y):
    return 1 - (y - OFF) / H


def merge(a, b):
    out = []
    for u, v in zip(a, b):
        out += [u, v]
    return out


fig = go.Figure()

panels = [
    ([(mu1_chain1, mu1_chain1_mid), (mu1_chain2, mu1_chain2_mid),
      (mu1_chain3, mu1_chain3_mid), (mu1_chain4, mu1_chain4_mid)], "x", "y"),
    ([(mu2_chain1, mu2_chain1_mid), (mu2_chain2, mu2_chain2_mid),
      (mu2_chain3, mu2_chain3_mid), (mu2_chain4, mu2_chain4_mid)], "x2", "y2"),
]
for chains, xa, ya in panels:
    for k, (a, b) in enumerate(chains):
        fig.add_trace(go.Scatter(
            x=iteration, y=merge(a, b), mode="lines", xaxis=xa, yaxis=ya,
            line=dict(color=chain_colors[k], width=1.6, dash=chain_dash[k]),
            showlegend=False, hoverinfo="skip",
        ))

xdom = [px(85), px(579)]
axis_common = dict(
    showgrid=False, zeroline=False, showline=True, mirror=True,
    linecolor="#222222", linewidth=1, ticks="outside", ticklen=10,
    tickcolor="#222222", tickfont=dict(family=FONT, size=16.5, color="#111111"),
)
xticks = dict(tickvals=[0, 500, 1000, 1500], ticktext=["0", "500", "1000", "1500"],
              range=[-58.96, 1559.96], domain=xdom, ticklabelstandoff=6)

fig.update_layout(
    width=W, height=H, margin=dict(l=0, r=0, t=0, b=0),
    paper_bgcolor="white", plot_bgcolor="white",
    xaxis=dict(**axis_common, **xticks, anchor="y"),
    yaxis=dict(**axis_common, domain=[py(413), py(85)], range=[-2.41, 4.36],
               tickvals=[-2, -1, 0, 1, 2, 3, 4], ticktext=["-2", "-1", "0", "1", "2", "3", "4"],
               tickangle=-90, anchor="x", ticklabelstandoff=6),
    xaxis2=dict(**axis_common, **xticks, anchor="y2"),
    yaxis2=dict(**axis_common, domain=[py(931.7), py(604)], range=[-1.221, 1.594],
                tickvals=[-1.0, -0.5, 0.0, 0.5, 1.0, 1.5],
                ticktext=["-1.0", "-0.5", "0.0", "0.5", "1.0", "1.5"],
                tickangle=-90, anchor="x2", ticklabelstandoff=6),
)

cx = (px(85) + px(579)) / 2
ann = []
for title, ylab, ty, xy, yy in [
    ("Traceplot for mu1", "mu1", 44, 486, 249),
    ("Traceplot for mu2", "mu2", 563, 1004, 768),
]:
    ann.append(dict(text="<b>%s</b>" % title, x=cx, y=py(ty), xref="paper", yref="paper",
                    showarrow=False, xanchor="center", yanchor="middle",
                    font=dict(family=FONT, size=19.5, color="#000000")))
    ann.append(dict(text="iteration", x=cx, y=py(xy), xref="paper", yref="paper",
                    showarrow=False, xanchor="center", yanchor="middle",
                    font=dict(family=FONT, size=16.5, color="#111111")))
    ann.append(dict(text=ylab, x=px(19), y=py(yy), xref="paper", yref="paper",
                    showarrow=False, xanchor="center", yanchor="middle", textangle=-90,
                    borderpad=0, font=dict(family=FONT, size=16.5, color="#111111")))
fig.update_layout(annotations=ann)

fig.write_html("out.html")
